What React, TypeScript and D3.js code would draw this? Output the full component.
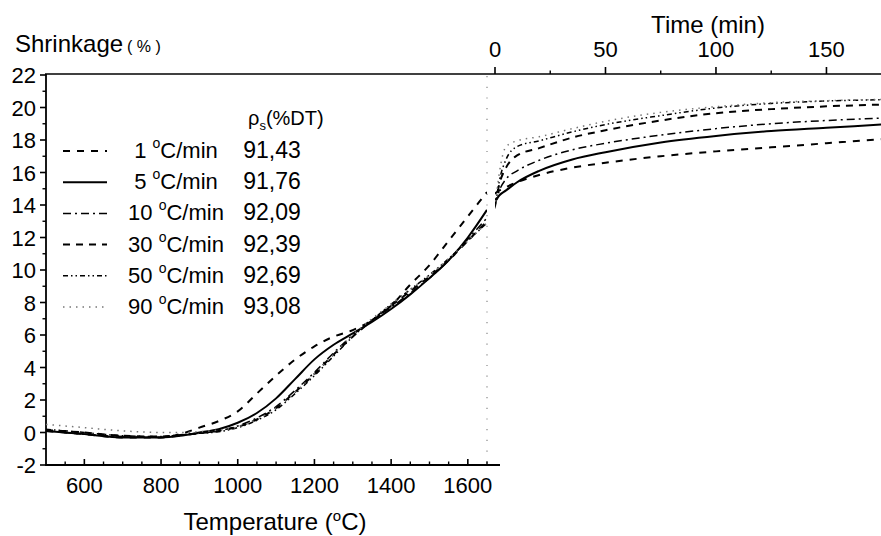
import React from "react";
import * as d3 from "d3";

// heating rates, legend values
const rates = ["1", "5", "10", "30", "50", "90"];
const densities = ["91,43", "91,76", "92,09", "92,39", "92,69", "93,08"];

// left panel: temperature ramp
const temps = [500, 600, 700, 800, 850, 900, 950, 1000, 1050, 1100, 1150, 1200, 1250, 1300, 1350, 1400, 1450, 1500, 1550, 1600, 1650];
const ramp1 = [0.1, -0.1, -0.3, -0.3, -0.1, 0.3, 0.7, 1.3, 2.4, 3.5, 4.5, 5.3, 5.9, 6.3, 6.9, 7.8, 9.1, 10.3, 11.8, 13.3, 14.8];
const ramp5 = [0.1, -0.1, -0.3, -0.3, -0.2, 0.0, 0.2, 0.6, 1.2, 2.1, 3.3, 4.5, 5.4, 6.1, 6.8, 7.6, 8.5, 9.5, 10.6, 12.0, 13.7];
const ramp10 = [0.1, -0.1, -0.25, -0.3, -0.2, -0.05, 0.1, 0.4, 0.9, 1.6, 2.6, 3.7, 4.9, 6.0, 6.9, 7.7, 8.6, 9.5, 10.6, 11.9, 13.2];
const ramp30 = [0.15, 0.0, -0.2, -0.25, -0.15, -0.05, 0.1, 0.35, 0.8, 1.5, 2.5, 3.6, 4.8, 5.9, 6.9, 7.8, 8.7, 9.6, 10.6, 11.8, 13.0];
const ramp50 = [0.2, 0.0, -0.2, -0.25, -0.15, -0.05, 0.05, 0.3, 0.75, 1.4, 2.4, 3.5, 4.7, 5.9, 6.9, 7.9, 8.8, 9.7, 10.7, 11.8, 12.9];
const ramp90 = [0.5, 0.3, 0.1, 0.0, 0.0, 0.05, 0.15, 0.35, 0.8, 1.5, 2.5, 3.6, 4.8, 6.0, 7.0, 7.9, 8.8, 9.7, 10.7, 11.8, 12.9];

// right panel: isothermal hold
const times = [0, 2, 5, 10, 20, 35, 50, 75, 100, 125, 150, 175];
const hold1 = [14.7, 14.9, 15.1, 15.4, 15.85, 16.3, 16.6, 17.0, 17.3, 17.55, 17.8, 18.05];
const hold5 = [14.2, 14.6, 14.9, 15.4, 16.1, 16.8, 17.25, 17.85, 18.25, 18.55, 18.75, 18.95];
const hold10 = [14.0, 14.9, 15.6, 16.1, 16.75, 17.4, 17.8, 18.3, 18.7, 19.0, 19.2, 19.35];
const hold30 = [14.0, 15.3, 16.3, 17.05, 17.5, 18.15, 18.6, 19.2, 19.65, 19.9, 20.07, 20.18];
const hold50 = [13.8, 15.5, 16.8, 17.6, 17.95, 18.5, 18.95, 19.5, 19.97, 20.25, 20.4, 20.48];
const hold90 = [13.8, 16.0, 17.6, 17.95, 18.2, 18.7, 19.15, 19.7, 20.05, 20.3, 20.42, 20.5];

const yTicks = [-2, 0, 2, 4, 6, 8, 10, 12, 14, 16, 18, 20, 22];
const tempTicks = [600, 800, 1000, 1200, 1400, 1600];
const timeTicks = [0, 50, 100, 150];

const rampSeries = [ramp1, ramp5, ramp10, ramp30, ramp50, ramp90];
const holdSeries = [hold1, hold5, hold10, hold30, hold50, hold90];

const styles = [
  { dash: "7,7", width: 2, color: "#000" },
  { dash: "", width: 2, color: "#000" },
  { dash: "8,4,2,4", width: 1.5, color: "#000" },
  { dash: "7,6", width: 2, color: "#000" },
  { dash: "5,3,1.5,3,1.5,3", width: 1.5, color: "#000" },
  { dash: "1.5,5", width: 1.5, color: "#777" },
];

const font = "Arial, 'Liberation Sans', Helvetica, sans-serif";

export default function App() {
  const width = 881;
  const height = 536;

  const y = d3.scaleLinear().domain([-2, 22]).range([465, 75]);
  const xT = d3.scaleLinear().domain([500, 1650]).range([46, 487]);
  const xt = d3.scaleLinear().domain([0, 175]).range([495, 881.7]);

  const rampLine = (vals: number[]) =>
    d3
      .line<number>()
      .x((_, i) => xT(temps[i]))
      .y((v) => y(v))
      .curve(d3.curveMonotoneX)(vals) || "";

  const holdLine = (vals: number[]) =>
    d3
      .line<number>()
      .x((_, i) => xt(times[i]))
      .y((v) => y(v))
      .curve(d3.curveMonotoneX)(vals) || "";

  const minorY = d3.range(-1, 22, 2);
  const minorT = d3.range(550, 1651, 50).filter((t) => t % 200 !== 0);
  const minorTime = [25, 75, 125, 175];

  return (
    <svg width={width} height={height} style={{ display: "block", position: "absolute", left: 0, top: 0, background: "#fff" }} fontFamily={font}>
      <defs>
        <clipPath id="clipL">
          <rect x={46} y={60} width={441} height={410} />
        </clipPath>
        <clipPath id="clipR">
          <rect x={495} y={60} width={390} height={410} />
        </clipPath>
      </defs>

      {/* axes frame */}
      <line x1={46} x2={46} y1={74} y2={465} stroke="#000" strokeWidth={1.8} />
      <line x1={45} x2={500} y1={465} y2={465} stroke="#000" strokeWidth={1.8} />
      <line x1={45} x2={881} y1={74} y2={74} stroke="#000" strokeWidth={1.6} />
      <line x1={487} x2={487} y1={76} y2={465} stroke="#888" strokeWidth={1.2} strokeDasharray="1.2,9.5" />

      {/* y ticks */}
      {yTicks.map((t) => (
        <g key={"y" + t}>
          <line x1={40} x2={46} y1={y(t)} y2={y(t)} stroke="#000" strokeWidth={1.6} />
          <text x={36} y={y(t) + 8} textAnchor="end" fontSize={22}>{t}</text>
        </g>
      ))}
      {minorY.map((t) => (
        <line key={"my" + t} x1={42.5} x2={46} y1={y(t)} y2={y(t)} stroke="#000" strokeWidth={1.4} />
      ))}

      {/* temperature ticks */}
      {tempTicks.map((t) => (
        <g key={"t" + t}>
          <line x1={xT(t)} x2={xT(t)} y1={465} y2={459} stroke="#000" strokeWidth={1.6} />
          <text x={xT(t)} y={493} textAnchor="middle" fontSize={22}>{t}</text>
        </g>
      ))}
      {minorT.map((t) => (
        <line key={"mt" + t} x1={xT(t)} x2={xT(t)} y1={465} y2={461.5} stroke="#000" strokeWidth={1.4} />
      ))}

      {/* time ticks */}
      {timeTicks.map((t) => (
        <g key={"tm" + t}>
          <line x1={xt(t)} x2={xt(t)} y1={74} y2={67} stroke="#000" strokeWidth={1.6} />
          <text x={xt(t)} y={57} textAnchor="middle" fontSize={22}>{t}</text>
        </g>
      ))}
      {minorTime.map((t) => (
        <line key={"mtm" + t} x1={xt(t)} x2={xt(t)} y1={74} y2={70.5} stroke="#000" strokeWidth={1.4} />
      ))}

      {/* titles */}
      <text x={15} y={52} fontSize={24}>
        Shrinkage<tspan fontSize={16} dx={4}>( % )</tspan>
      </text>
      <text x={708} y={33} textAnchor="middle" fontSize={24}>Time (min)</text>
      <text x={275} y={530} textAnchor="middle" fontSize={24}>
        Temperature (<tspan fontSize={15} dy={-9}>o</tspan><tspan dy={9}>C)</tspan>
      </text>

      {/* curves */}
      <g clipPath="url(#clipL)" fill="none">
        {rampSeries.map((s, i) => (
          <path key={"r" + i} d={rampLine(s)} stroke={styles[i].color} strokeWidth={styles[i].width} strokeDasharray={styles[i].dash} />
        ))}
      </g>
      <g clipPath="url(#clipR)" fill="none">
        {holdSeries.map((s, i) => (
          <path key={"h" + i} d={holdLine(s)} stroke={styles[i].color} strokeWidth={styles[i].width} strokeDasharray={styles[i].dash} />
        ))}
      </g>

      {/* legend */}
      <text x={248} y={125} fontSize={20}>
        ρ<tspan fontSize={13} dy={5}>s</tspan><tspan dy={-5}>(%DT)</tspan>
      </text>
      {rates.map((r, i) => {
        const base = 158 + i * 31.2;
        return (
          <g key={"lg" + r}>
            <line x1={63} x2={107} y1={base - 7} y2={base - 7} stroke={styles[i].color} strokeWidth={styles[i].width} strokeDasharray={styles[i].dash} />
            <text x={176} y={base} textAnchor="middle" fontSize={22}>
              {r} <tspan fontSize={14} dy={-10}>o</tspan><tspan dy={10}>C/min</tspan>
            </text>
            <text x={272} y={base} textAnchor="middle" fontSize={23}>{densities[i]}</text>
          </g>
        );
      })}
    </svg>
  );
}
